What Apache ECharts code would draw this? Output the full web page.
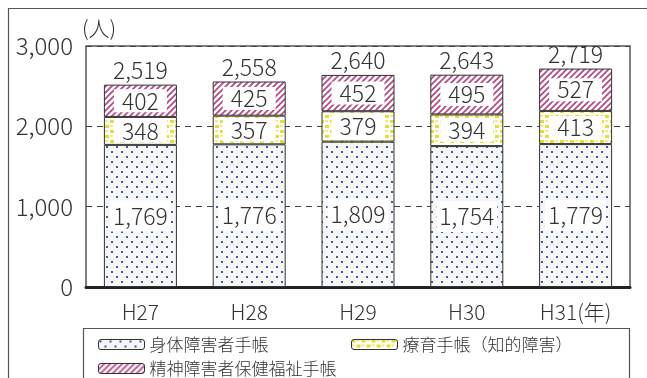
<!DOCTYPE html>
<html><head><meta charset="utf-8">
<script src="https://cdn.jsdelivr.net/npm/echarts@6/dist/echarts.min.js"></script>
<style>html,body{margin:0;padding:0;background:#fff}#c{width:647px;height:378px}</style>
</head><body><div id="c"></div>
<script>
const categories = ['H27','H28','H29','H30','H31'];
const shintai = [1769,1776,1809,1754,1779];
const ryoiku = [348,357,379,394,413];
const seishin = [402,425,452,495,527];
const totals = [2519,2558,2640,2643,2719];
const yTicks = [0,1000,2000,3000];
const seriesNames = ['身体障害者手帳','療育手帳（知的障害）','精神障害者保健福祉手帳'];

function pat(w,h,draw){const c=document.createElement('canvas');c.width=w;c.height=h;const g=c.getContext('2d');draw(g);return {image:c,repeat:'repeat'};}
const dotPat = pat(10,10,g=>{g.fillStyle='#f6f6f4';g.fillRect(0,0,10,10);g.fillStyle='#3b5ba8';g.fillRect(1,1,2,2);g.fillRect(6,6,2,2);});
const yelPat = pat(10,10,g=>{g.fillStyle='#ffffff';g.fillRect(0,0,10,10);g.fillStyle='#e3df2e';g.fillRect(0,0,4,3);g.fillRect(5,5,4,3);g.fillStyle='#efeb80';g.fillRect(5,0,3,2);g.fillRect(0,5,3,2);});
const magPat = pat(6,6,g=>{g.fillStyle='#ffffff';g.fillRect(0,0,6,6);g.strokeStyle='#b5417e';g.lineWidth=1.6;g.beginPath();g.moveTo(0,6);g.lineTo(6,0);g.moveTo(-3,3);g.lineTo(3,-3);g.moveTo(3,9);g.lineTo(9,3);g.stroke();});

const FONT='"Noto Sans CJK JP","Noto Sans",sans-serif';
const FW=300;
const fmt=v=>v.toLocaleString('en-US');
const chart=echarts.init(document.getElementById('c'));
const barStyle=c=>({color:c,borderColor:'#333',borderWidth:1});
const lbl=(pad)=>({show:true,position:'inside',fontFamily:FONT,fontWeight:FW,fontSize:23,color:'#333',backgroundColor:'#fff',padding:pad,formatter:p=>fmt(p.value)});
const legText={fontFamily:FONT,fontWeight:FW,fontSize:17,color:'#333'};
chart.setOption({
  animation:false,
  textStyle:{fontFamily:FONT},
  grid:{left:86,right:17,top:46,bottom:91,show:true,borderColor:'#555',borderWidth:1.5,backgroundColor:'transparent'},
  xAxis:{type:'category',data:categories,axisTick:{show:false},axisLine:{lineStyle:{color:'#222',width:3}},
    axisLabel:{fontFamily:FONT,fontWeight:FW,fontSize:21,color:'#333',margin:15,
      formatter:(v,i)=>i===categories.length-1?v+'(年)':v}},
  yAxis:{type:'value',min:0,max:3000,interval:1000,axisLine:{show:false},axisTick:{show:false},
    splitLine:{lineStyle:{color:'#444',type:[6,5],width:1}},
    axisLabel:{fontFamily:FONT,fontWeight:FW,fontSize:24,color:'#333',margin:13,formatter:v=>fmt(v)}},
  legend:[
    {data:[seriesNames[0]],left:93,top:331,itemWidth:46,itemHeight:10,itemGap:6,textStyle:legText,itemStyle:{borderColor:'#333',borderWidth:1}},
    {data:[seriesNames[1]],left:346,top:331,itemWidth:46,itemHeight:10,itemGap:6,textStyle:legText,itemStyle:{borderColor:'#333',borderWidth:1}},
    {data:[seriesNames[2]],left:93,top:355,itemWidth:46,itemHeight:10,itemGap:6,textStyle:legText,itemStyle:{borderColor:'#333',borderWidth:1}}
  ],
  graphic:[
    {type:'rect',shape:{x:8.5,y:8.5,width:700,height:400},style:{fill:'none',stroke:'#555',lineWidth:1.2},z:-1},
    {type:'rect',shape:{x:83.5,y:328.5,width:546,height:80},style:{fill:'none',stroke:'#555',lineWidth:1.2},z:-1},
    {type:'text',left:82,top:18,style:{text:'(人)',font:FW+' 21px '+FONT,fill:'#333'}}
  ],
  series:[
    {name:seriesNames[0],type:'bar',stack:'a',data:shintai,barWidth:73,itemStyle:barStyle(dotPat),label:lbl([4,3])},
    {name:seriesNames[1],type:'bar',stack:'a',data:ryoiku,itemStyle:barStyle(yelPat),label:lbl([0,8])},
    {name:seriesNames[2],type:'bar',stack:'a',data:seishin,itemStyle:barStyle(magPat),label:lbl([0,8])},
    {name:'total',type:'bar',stack:'a',data:totals.map(()=>0),itemStyle:{color:'transparent',borderWidth:0},
      label:{show:true,position:'top',distance:3,fontFamily:FONT,fontWeight:FW,fontSize:23,color:'#333',formatter:p=>fmt(totals[p.dataIndex])}}
  ]
});
</script></body></html>
